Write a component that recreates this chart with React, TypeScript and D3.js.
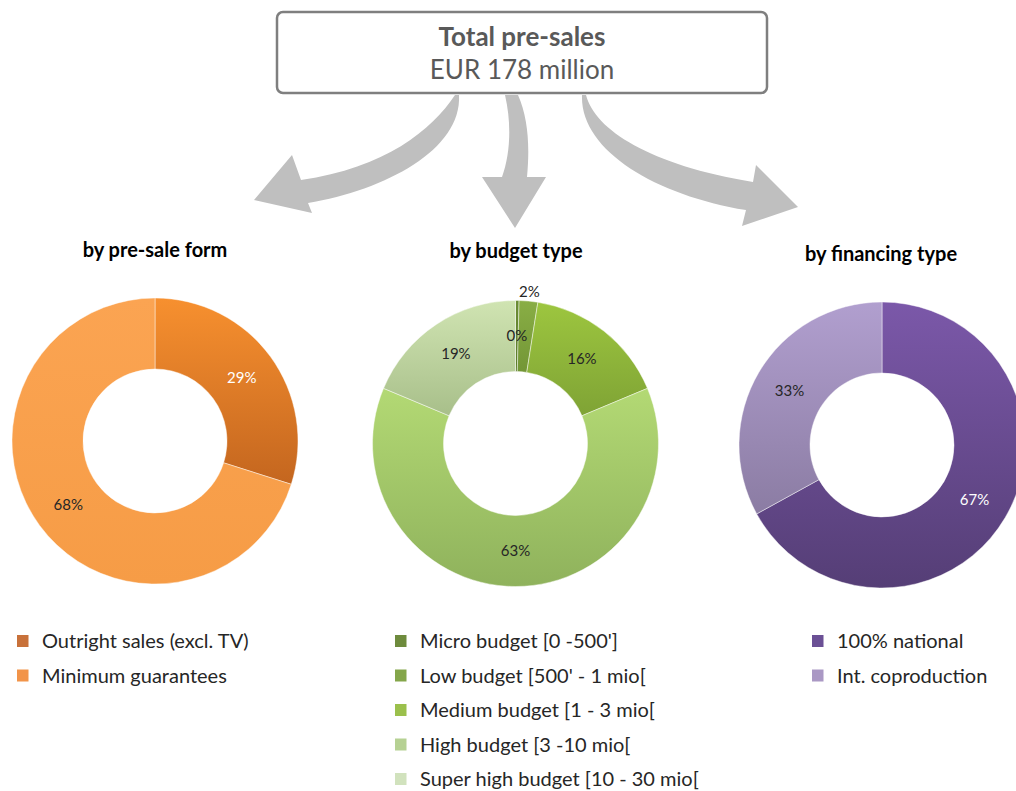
import React from "react";
import * as d3 from "d3";

const FONT = "Lato, 'Open Sans', sans-serif";

// ---- Data ----
const formLabels = ["Outright sales (excl. TV)", "Minimum guarantees"];
const formValues = [29, 68];
const budgetLabels = [
  "Micro budget [0 -500']",
  "Low budget [500' - 1 mio[",
  "Medium budget [1 - 3 mio[",
  "High budget [3 -10 mio[",
  "Super high budget [10 - 30 mio[",
];
const budgetValues = [0.4, 2.1, 16.2, 62.6, 18.7];
const finLabels = ["100% national", "Int. coproduction"];
const finValues = [67, 33];

const chartTitles = ["by pre-sale form", "by budget type", "by financing type"];
const headerTitle = "Total pre-sales";
const headerSub = "EUR 178 million";

// ---- Styles ----
const formColors = [
  { top: "#f7902f", bottom: "#c4661f", legend: "#c8713a", text: "#ffffff" },
  { top: "#fba452", bottom: "#f69c46", legend: "#f29449", text: "#262626" },
];
const budgetColors = [
  { top: "#6c8d35", bottom: "#5a7a2a", legend: "#6e8b3d", text: "#262626" },
  { top: "#89ae45", bottom: "#739636", legend: "#84a64a", text: "#262626" },
  { top: "#9dc63f", bottom: "#7fa335", legend: "#9bc04c", text: "#262626" },
  { top: "#b3d974", bottom: "#8fb25c", legend: "#b6d193", text: "#262626" },
  { top: "#d0e4b2", bottom: "#a8bf8a", legend: "#d1e2bd", text: "#262626" },
];
const finColors = [
  { top: "#7b58a9", bottom: "#553e76", legend: "#6b5095", text: "#ffffff" },
  { top: "#b19fcf", bottom: "#8b7ca3", legend: "#aa98c4", text: "#262626" },
];

const OUTER = 143;
const INNER = 72;

type Col = { top: string; bottom: string; legend: string; text: string };

function Donut({ id, cx, cy, values, colors }: { id: string; cx: number; cy: number; values: number[]; colors: Col[] }) {
  const pie = d3.pie<number>().sort(null).value((d) => d)(values);
  const arc = d3.arc<d3.PieArcDatum<number>>().innerRadius(INNER).outerRadius(OUTER);
  const labelArc = d3.arc<d3.PieArcDatum<number>>().innerRadius(OUTER + 9).outerRadius(OUTER + 9);
  return (
    <g transform={`translate(${cx},${cy})`}>
      <defs>
        {colors.map((c, i) => (
          <linearGradient key={i} id={`${id}-g${i}`} x1="0" y1="0" x2="0" y2="1">
            <stop offset="0" stopColor={c.top} />
            <stop offset="1" stopColor={c.bottom} />
          </linearGradient>
        ))}
      </defs>
      {pie.map((d, i) => (
        <path
          key={i}
          d={arc(d) || ""}
          fill={`url(#${id}-g${i})`}
          stroke="rgba(255,255,255,0.45)"
          strokeWidth={1}
        />
      ))}
      {pie.map((d, i) => {
        const outside = d.value < 3 && i > 0;
        const [x, y] = outside ? labelArc.centroid(d) : arc.centroid(d);
        return (
          <text
            key={i}
            x={x}
            y={y}
            dy="0.35em"
            textAnchor="middle"
            fontFamily={FONT}
            fontSize={15}
            fill={outside ? "#262626" : colors[i].text}
          >
            {`${Math.round(d.value)}%`}
          </text>
        );
      })}
    </g>
  );
}

function Legend({ x, y, labels, colors }: { x: number; y: number; labels: string[]; colors: Col[] }) {
  const ys = d3.scaleLinear().domain([0, 1]).range([y, y + 34.5]);
  return (
    <g>
      {labels.map((l, i) => (
        <g key={i}>
          <rect x={x - 1} y={ys(i) - 6} width={11.5} height={12} fill={colors[i].legend} />
          <text x={x + 24} y={ys(i)} dy="0.35em" fontFamily={FONT} fontSize={20} fill="#262626">
            {l}
          </text>
        </g>
      ))}
    </g>
  );
}

const ARROWS = [
  "M455,95 C432,130 385,168 301,180 L292,155 L254,200 L312,213 L308,203 C385,190 462,150 459,95 Z",
  "M505,95 C512,125 510,155 502,177 L482,177 L515,228 L546,177 L527,177 C530,145 528,118 518,95 Z",
  "M586,95 C595,130 650,165 753,182 L756,165 L798,207 L742,226 L746,210 C655,195 580,150 582,95 Z",
];

export default function App() {
  const centers = [
    { cx: 155, cy: 441 },
    { cx: 515.5, cy: 443.5 },
    { cx: 882, cy: 445 },
  ];
  const titleY = [250, 251, 254];
  const titleX = [155, 516, 881];
  return (
    <svg width={1016} height={791} style={{ position: "absolute", left: 0, top: 0 }}>
      <rect width={1016} height={791} fill="#ffffff" />
      {ARROWS.map((d, i) => (
        <path key={i} d={d} fill="#bfbfbf" />
      ))}
      <rect x={277} y={12} width={490} height={81} rx={6} fill="#ffffff" stroke="#7f7f7f" strokeWidth={2.5} />
      <text x={522} y={37} dy="0.35em" textAnchor="middle" fontFamily={FONT} fontWeight="bold" fontSize={26} fill="#595959">
        {headerTitle}
      </text>
      <text x={522} y={70} dy="0.35em" textAnchor="middle" fontFamily={FONT} fontSize={26} fill="#595959">
        {headerSub}
      </text>
      {chartTitles.map((t, i) => (
        <text key={i} x={titleX[i]} y={titleY[i]} dy="0.35em" textAnchor="middle" fontFamily={FONT} fontWeight="bold" fontSize={20} fill="#000000">
          {t}
        </text>
      ))}
      <Donut id="form" {...centers[0]} values={formValues} colors={formColors} />
      <Donut id="budget" {...centers[1]} values={budgetValues} colors={budgetColors} />
      <Donut id="fin" {...centers[2]} values={finValues} colors={finColors} />
      <Legend x={18} y={641} labels={formLabels} colors={formColors} />
      <Legend x={396} y={641} labels={budgetLabels} colors={budgetColors} />
      <Legend x={813} y={641} labels={finLabels} colors={finColors} />
    </svg>
  );
}
